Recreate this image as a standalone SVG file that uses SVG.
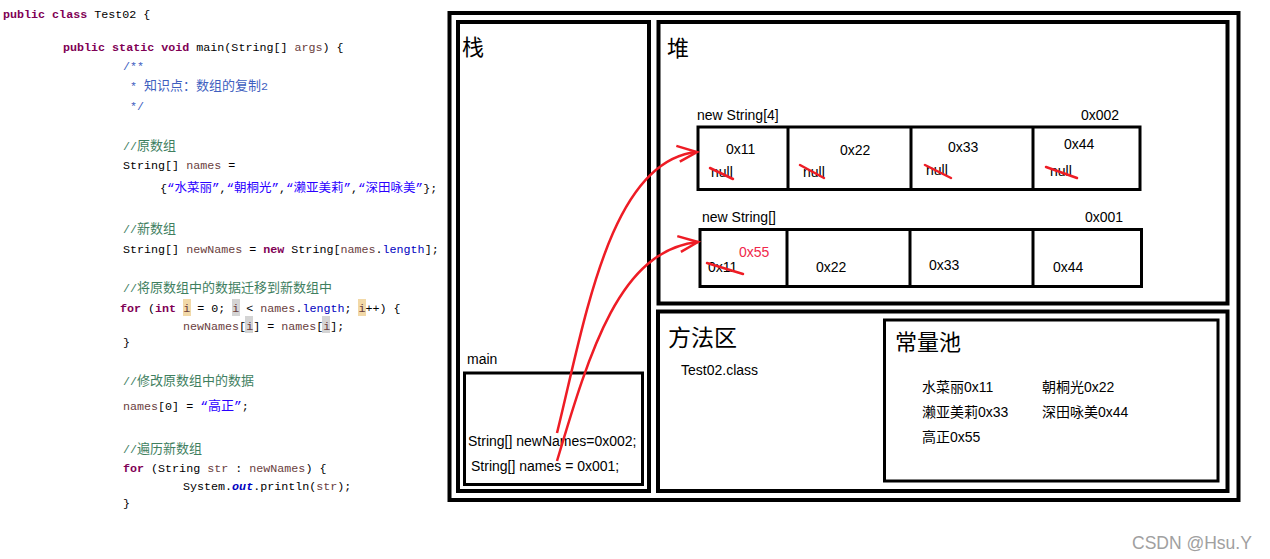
<svg xmlns="http://www.w3.org/2000/svg" width="1270" height="559" viewBox="0 0 1270 559">
<style>
.code{font-family:"Liberation Mono","Noto Sans CJK SC",monospace;font-size:11.7px;fill:#000;white-space:pre}
.kw{font-weight:bold;fill:#7f0055}
.cm{fill:#3f7f5f}
.jd{fill:#3f5fbf}
.st{fill:#2a00ff}
.vr{fill:#6a3e3e}
.fd{fill:#0000c0}
.cj{font-size:13px}
.sj{font-size:12.5px}
.frame{fill:none;stroke:#000;stroke-width:4}
.box{fill:none;stroke:#000;stroke-width:3}
.lbl{font-family:"Liberation Sans","Noto Sans CJK SC",sans-serif;font-size:14px;fill:#000}
.ttl{font-family:"Liberation Sans","Noto Sans CJK SC",sans-serif;fill:#000}
.strike{stroke:#ee1c25;stroke-width:2.5;fill:none;stroke-linecap:round}
.arrow{stroke:#ee1c25;stroke-width:2.5;fill:none}
</style>
<defs>
<marker id="ah" markerWidth="26" markerHeight="20" refX="22" refY="10" orient="auto" markerUnits="userSpaceOnUse">
<path d="M2,2 L22,10 L4,18" fill="none" stroke="#ee1c25" stroke-width="2.5"/>
</marker>
</defs>
<rect width="1270" height="559" fill="#fff"/>

<g id="code">
<rect x="183" y="299" width="8" height="17" fill="#f2d9a8"/>
<rect x="232" y="299" width="8" height="17" fill="#d4d4d4"/>
<rect x="358" y="299" width="8" height="17" fill="#f2d9a8"/>
<rect x="245" y="316" width="8" height="17" fill="#d4d4d4"/>
<rect x="322" y="316" width="8" height="17" fill="#d4d4d4"/>
<text class="code" x="3" y="18"><tspan class="kw">public</tspan> <tspan class="kw">class</tspan> Test02 {</text>
<text class="code" x="63" y="51"><tspan class="kw">public</tspan> <tspan class="kw">static</tspan> <tspan class="kw">void</tspan> main(String[] <tspan class="vr">args</tspan>) {</text>
<text class="code jd" x="123" y="70">/**</text>
<text class="code jd" x="130" y="90">* <tspan class="cj">知识点：数组的复制</tspan>2</text>
<text class="code jd" x="130" y="110">*/</text>
<text class="code cm" x="123" y="150">//<tspan class="cj">原数组</tspan></text>
<text class="code" x="123" y="169">String[] <tspan class="vr">names</tspan> =</text>
<text class="code" x="160" y="192">{<tspan class="st sj">“水菜丽”</tspan>,<tspan class="st sj">“朝桐光”</tspan>,<tspan class="st sj">“濑亚美莉”</tspan>,<tspan class="st sj">“深田咏美”</tspan>};</text>
<text class="code cm" x="123" y="233">//<tspan class="cj">新数组</tspan></text>
<text class="code" x="123" y="253">String[] <tspan class="vr">newNames</tspan> = <tspan class="kw">new</tspan> String[<tspan class="vr">names</tspan>.<tspan class="fd">length</tspan>];</text>
<text class="code cm" x="123" y="292">//<tspan class="cj">将原数组中的数据迁移到新数组中</tspan></text>
<text class="code" x="120" y="312"><tspan class="kw">for</tspan> (<tspan class="kw">int</tspan> <tspan class="vr">i</tspan> = 0; <tspan class="vr">i</tspan> &lt; <tspan class="vr">names</tspan>.<tspan class="fd">length</tspan>; <tspan class="vr">i</tspan>++) {</text>
<text class="code" x="183" y="330"><tspan class="vr">newNames</tspan>[<tspan class="vr">i</tspan>] = <tspan class="vr">names</tspan>[<tspan class="vr">i</tspan>];</text>
<text class="code" x="123" y="346">}</text>
<text class="code cm" x="123" y="385">//<tspan class="cj">修改原数组中的数据</tspan></text>
<text class="code" x="123" y="410"><tspan class="vr">names</tspan>[0] = <tspan class="st cj">“高正”</tspan>;</text>
<text class="code cm" x="123" y="453">//<tspan class="cj">遍历新数组</tspan></text>
<text class="code" x="123" y="472"><tspan class="kw">for</tspan> (String <tspan class="vr">str</tspan> : <tspan class="vr">newNames</tspan>) {</text>
<text class="code" x="183" y="490">System.<tspan class="fd" font-weight="bold" font-style="italic">out</tspan>.println(<tspan class="vr">str</tspan>);</text>
<text class="code" x="123" y="507">}</text>
</g>

<g id="memory">
<rect class="frame" x="449.5" y="13" width="789" height="487"/>
</g>

<g id="stack">
<rect class="frame" x="458" y="22" width="191" height="469"/>
<text class="ttl" x="462" y="55" font-size="22">栈</text>
</g>

<g id="main-frame">
<text class="lbl" x="467" y="364" font-size="13">main</text>
<rect class="box" x="464.5" y="373" width="178" height="111.5"/>
<text class="lbl" x="468" y="446">String[] newNames=0x002;</text>
<text class="lbl" x="471" y="471">String[] names = 0x001;</text>
</g>

<g id="heap">
<rect class="frame" x="658.5" y="22" width="569" height="281.5"/>
<text class="ttl" x="667" y="56" font-size="22">堆</text>
</g>

<g id="array-0x002">
<text class="lbl" x="697" y="120" font-size="13">new String[4]</text>
<text class="lbl" x="1081" y="120" font-size="13">0x002</text>
<rect class="box" x="698" y="127" width="442" height="62.5"/>
<line x1="788" y1="127" x2="788" y2="189.5" stroke="#000" stroke-width="3"/>
<line x1="911" y1="127" x2="911" y2="189.5" stroke="#000" stroke-width="3"/>
<line x1="1033" y1="127" x2="1033" y2="189.5" stroke="#000" stroke-width="3"/>
<text class="lbl" x="726" y="154">0x11</text>
<text class="lbl" x="840" y="155">0x22</text>
<text class="lbl" x="948" y="152">0x33</text>
<text class="lbl" x="1064" y="149">0x44</text>
<text class="lbl" x="711" y="177" font-size="13">null</text>
<text class="lbl" x="803" y="177" font-size="13">null</text>
<text class="lbl" x="926" y="175" font-size="13">null</text>
<text class="lbl" x="1050" y="176" font-size="13">null</text>
<line class="strike" x1="710" y1="168" x2="733" y2="179"/>
<line class="strike" x1="800" y1="165" x2="824" y2="178"/>
<line class="strike" x1="925" y1="165" x2="951" y2="178"/>
<line class="strike" x1="1046" y1="167" x2="1077" y2="178"/>
</g>

<g id="array-0x001">
<text class="lbl" x="702" y="222" font-size="13">new String[]</text>
<text class="lbl" x="1085" y="222" font-size="13">0x001</text>
<rect class="box" x="700" y="229.5" width="441.5" height="57"/>
<line x1="787" y1="229.5" x2="787" y2="286.5" stroke="#000" stroke-width="3"/>
<line x1="910" y1="229.5" x2="910" y2="286.5" stroke="#000" stroke-width="3"/>
<line x1="1033" y1="229.5" x2="1033" y2="286.5" stroke="#000" stroke-width="3"/>
<text class="lbl" x="739" y="257" style="fill:#f0284a">0x55</text>
<text class="lbl" x="708" y="272">0x11</text>
<text class="lbl" x="816" y="272">0x22</text>
<text class="lbl" x="929" y="270">0x33</text>
<text class="lbl" x="1053" y="272">0x44</text>
<line class="strike" x1="707" y1="263" x2="743" y2="274"/>
</g>

<g id="method-area">
<rect class="frame" x="658" y="311.5" width="569.5" height="179.5"/>
<text class="ttl" x="668" y="346" font-size="23">方法区</text>
<text class="lbl" x="681" y="375" font-size="13">Test02.class</text>
</g>

<g id="constant-pool">
<rect class="box" x="884.5" y="320" width="333.5" height="161"/>
<text class="ttl" x="895" y="350" font-size="22">常量池</text>
<text class="lbl" x="922" y="392">水菜丽0x11</text>
<text class="lbl" x="1042" y="392">朝桐光0x22</text>
<text class="lbl" x="922" y="417">濑亚美莉0x33</text>
<text class="lbl" x="1042" y="417">深田咏美0x44</text>
<text class="lbl" x="922" y="442">高正0x55</text>
</g>

<g id="connectors">
<path class="arrow" d="M557,433 C585,320 610,160 697,152" marker-end="url(#ah)"/>
<path class="arrow" d="M557,461 C590,350 620,250 698,242" marker-end="url(#ah)"/>
</g>

<text x="1132" y="549" font-family="Liberation Sans, sans-serif" font-size="17.5" fill="#a0a0a0">CSDN @Hsu.Y</text>
</svg>
